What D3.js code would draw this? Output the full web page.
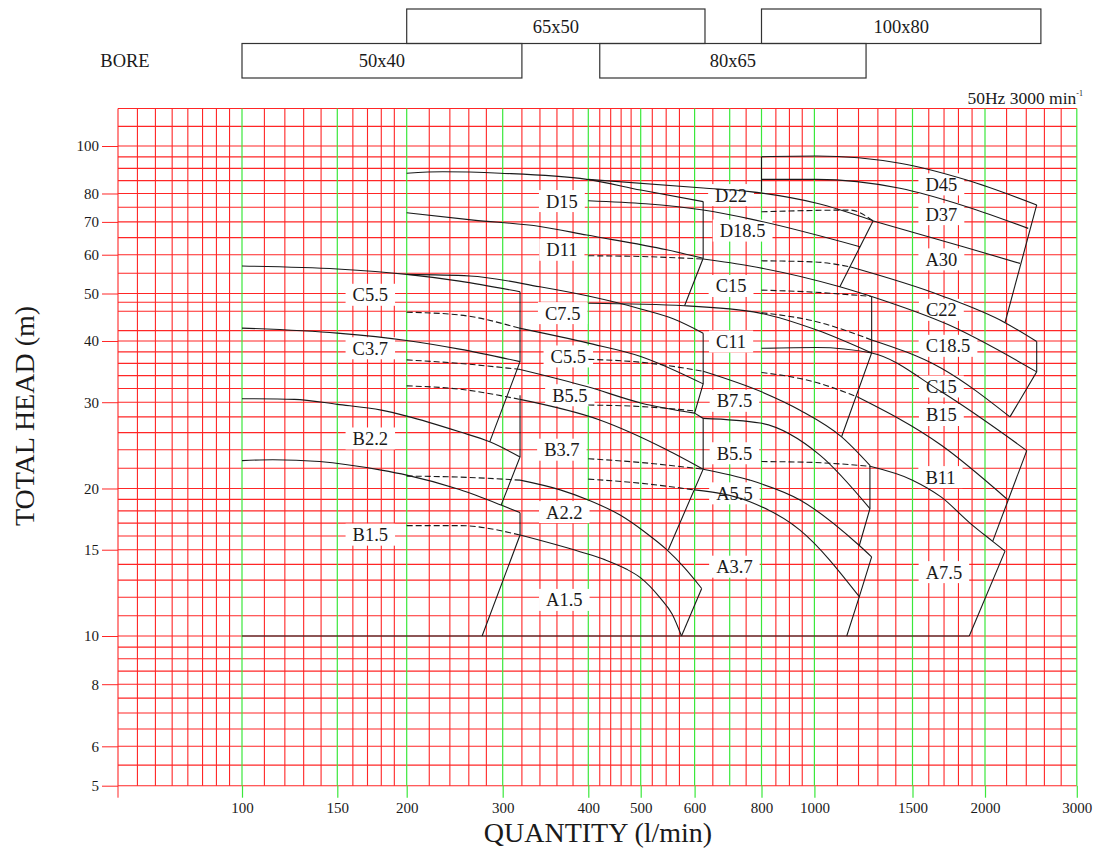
<!DOCTYPE html>
<html>
<head>
<meta charset="utf-8">
<script src="https://cdn.jsdelivr.net/npm/d3@7"></script>
<style>
  body { margin: 0; background: #fff; }
  text { font-family: "Liberation Serif", "Times New Roman", serif; fill: #1a1a1a; }
</style>
</head>
<body>
<svg id="chart" width="1101" height="849"></svg>
<script>
// ---- axes / grid values ----
const xTicks = [100, 150, 200, 300, 400, 500, 600, 800, 1000, 1500, 2000, 3000];
const xGreen = [100, 150, 200, 300, 400, 500, 600, 700, 800, 1000, 1500, 2000, 3000];
const xMinor = [60, 65, 70, 75, 80, 85, 90, 95, 110, 120, 130, 140, 160, 170, 180, 190,
  220, 240, 260, 280, 320, 340, 360, 380, 420, 440, 460, 480, 520, 545, 570, 650, 750,
  850, 900, 950, 1100, 1200, 1300, 1400, 1600, 1700, 1800, 1900, 2200, 2400, 2600, 2800];
const yTicks = [5, 6, 8, 10, 15, 20, 30, 40, 50, 60, 70, 80, 100];
const yGrid = [5, 5.5, 6, 6.5, 7, 7.5, 8, 8.5, 9, 9.5, 10, 11, 12, 13, 14, 15, 16, 17, 18, 19,
  20, 22, 24, 26, 28, 30, 32, 34, 36, 38, 40, 42, 46, 48, 50, 55, 60, 65, 70, 75, 80, 85,
  90, 95, 100, 110, 120];

// ---- bore boxes ----
const boreNames = ["65x50", "100x80", "50x40", "80x65"];
const boreFrom = [200, 800, 100, 420];
const boreTo = [628, 2560, 320, 1238];
const boreRow = [0, 0, 1, 1];

// ---- curves [Q l/min, H m] ----
// 50x40
const c55_4050 = [[100, 56.9], [150, 56.1], [200, 54.7], [250, 53.0], [318, 50.4]];
const c37_4050 = [[100, 42.5], [150, 41.5], [200, 40.1], [250, 38.5], [318, 36.3]];
const b22_4050 = [[100, 30.5], [125, 30.4], [150, 29.7], [180, 28.9], [200, 28.1], [250, 26.1], [284, 24.9], [318, 23.2]];
const b15_4050 = [[100, 22.8], [114, 22.9], [139, 22.7], [180, 21.8], [200, 21.3], [250, 19.9], [298, 18.5], [318, 17.85]];
const env4050a = [[318, 50.4], [318, 36.3], [284, 24.9]];
const env4050b = [[318, 31.0], [318, 23.2], [298, 18.5]];
const env4050c = [[318, 17.85], [318, 16.07], [275, 10]];

// 65x50
const d15_5065 = [[200, 88.0], [233, 88.6], [297, 88.0], [398, 85.5], [500, 81.3], [623, 77.0]];
const d11_5065 = [[200, 73.1], [265, 70.6], [340, 68.5], [398, 65.8], [546, 61.4], [623, 59.0]];
const c75_5065 = [[200, 54.7], [261, 54.3], [340, 51.6], [400, 49.4], [500, 46.5], [558, 44.4], [623, 41.5]];
const c55_5065d = [[200, 45.8], [250, 45.2], [317, 42.5]];
const c55_5065 = [[317, 42.5], [400, 39.6], [500, 37.2], [623, 32.7]];
const b55_5065d = [[200, 36.6], [250, 36.0], [318, 35.0]];
const b55_5065 = [[318, 35.0], [398, 32.3], [500, 29.9], [600, 28.5]];
const b37_5065d = [[200, 32.4], [250, 31.9], [318, 30.4]];
const b37_5065 = [[318, 30.4], [420, 27.6], [546, 24.0], [623, 21.9]];
const a22_5065d = [[200, 21.2], [250, 21.1], [318, 20.8]];
const a22_5065 = [[318, 20.8], [364, 19.87], [400, 18.95], [458, 17.65], [507, 16.3], [546, 15.0], [580, 13.77], [619, 12.5]];
const a15_5065d = [[200, 16.8], [250, 16.8], [318, 16.07]];
const a15_5065 = [[318, 16.07], [389, 14.86], [430, 14.3], [470, 13.7], [500, 13.14], [534, 11.96], [556, 11.09], [574, 10]];
const env5065a = [[623, 77.0], [623, 59.0], [580, 47.2]];
const env5065b = [[623, 41.5], [623, 32.7], [600, 28.5], [623, 27.8], [623, 21.9], [549, 15.0]];
const env5065c = [[619, 12.5], [574, 10]];

// 80x65
const d22_6580 = [[400, 85.5], [623, 82.1], [762, 80.7], [1010, 76.4], [1275, 70.4]];
const d185_6580 = [[400, 77.3], [623, 74.0], [762, 71.0], [1207, 62.3]];
const c15_6580d = [[400, 59.7], [500, 59.5], [623, 58.8]];
const c15_6580 = [[623, 58.8], [762, 56.9], [1111, 51.6], [1267, 49.3]];
const c11_6580 = [[400, 47.75], [580, 47.2], [795, 45.6], [1010, 42.1], [1267, 37.8]];
const b75_6580d = [[400, 36.7], [500, 36.2], [623, 34.7]];
const b75_6580 = [[623, 34.7], [800, 31.5], [941, 28.9], [1119, 25.5], [1258, 22.3]];
const b55_6580d = [[400, 29.6], [500, 29.4], [600, 28.8]];
const b55_6580 = [[623, 27.8], [795, 27.2], [1023, 23.4], [1258, 18.2]];
const a55_6580d = [[400, 23.0], [500, 22.6], [623, 21.9]];
const a55_6580 = [[623, 21.9], [762, 20.8], [941, 18.95], [1204, 15.3], [1267, 14.5]];
const a37_6580d = [[400, 20.9], [500, 20.5], [600, 19.87]];
const a37_6580 = [[600, 19.87], [762, 18.8], [941, 16.45], [1204, 12.03]];
const env6580a = [[1275, 70.4], [1111, 51.6]];
const env6580b = [[1267, 49.3], [1267, 37.8], [1119, 25.5]];
const env6580c = [[1258, 22.3], [1258, 18.2], [1204, 15.3]];
const env6580d = [[1267, 14.5], [1204, 12.03], [1143, 10]];

// 100x80
const d45_80100 = [[800, 95.1], [1010, 95.4], [1424, 92.2], [1860, 85.2], [2513, 75.8]];
const d37_80100 = [[800, 85.5], [1010, 85.5], [1424, 82.0], [1860, 75.2], [2421, 67.9]];
const a30_80100d = [[800, 73.4], [1158, 74.0], [1275, 70.3]];
const a30_80100 = [[1275, 70.3], [1835, 62.3], [2334, 57.6]];
const c22_80100d = [[800, 58.3], [1000, 58.0], [1158, 56.7]];
const c22_80100 = [[1158, 56.7], [1682, 49.5], [2185, 43.6], [2513, 39.9]];
const c185_80100d = [[800, 50.8], [1000, 50.3], [1267, 49.3]];
const c185_80100 = [[1267, 49.3], [1727, 43.2], [2513, 34.6]];
const c15_80100d = [[800, 45.7], [1000, 43.9], [1267, 40.2]];
const c15_80100 = [[1267, 40.2], [1682, 35.2], [2233, 28.0]];
const b15_80100 = [[800, 38.65], [1010, 38.8], [1267, 37.8], [1682, 31.5], [2405, 23.9]];
const b11_80100d = [[800, 34.5], [1000, 33.0], [1191, 30.8]];
const b11_80100 = [[1191, 30.8], [1682, 24.5], [2214, 18.95]];
const a75_80100d = [[800, 22.7], [1000, 22.6], [1258, 22.2]];
const a75_80100 = [[1258, 22.2], [1500, 20.8], [1682, 19.2], [1884, 17.0], [2069, 15.6], [2185, 14.9]];
const env80100a = [[800, 95.1], [800, 80.7]];
const env80100b = [[2513, 75.8], [2185, 43.6]];
const env80100c = [[2513, 39.9], [2513, 34.6], [2233, 28.0]];
const env80100d = [[2405, 23.9], [2069, 15.6]];
const env80100e = [[2185, 14.9], [1879, 10]];
const baseLine = [[100, 10], [1879, 10]];

// ---- curve labels ----
const labelText = ["C5.5", "C3.7", "B2.2", "B1.5",
  "D15", "D11", "C7.5", "C5.5", "B5.5", "B3.7", "A2.2", "A1.5",
  "D22", "D18.5", "C15", "C11", "B7.5", "B5.5", "A5.5", "A3.7",
  "D45", "D37", "A30", "C22", "C18.5", "C15", "B15", "B11", "A7.5"];
const labelQ = [172, 172, 172, 172,
  366, 366, 367, 374, 376, 366, 369, 369,
  704, 739, 704, 704, 714, 714, 714, 714,
  1682, 1682, 1682, 1682, 1727, 1682, 1682, 1676, 1699];
const labelH = [49.7, 38.65, 25.3, 16.1,
  77.2, 61.4, 45.6, 37.2, 31.0, 24.0, 17.9, 11.85,
  79.4, 67.2, 51.8, 39.9, 30.2, 23.6, 19.55, 13.85,
  83.5, 72.6, 58.7, 46.3, 39.1, 32.3, 28.25, 21.1, 13.5];

const solidCurves = [c55_4050, c37_4050, b22_4050, b15_4050,
  d15_5065, d11_5065, c75_5065, c55_5065, b55_5065, b37_5065, a22_5065, a15_5065,
  d22_6580, d185_6580, c15_6580, c11_6580, b75_6580, b55_6580, a55_6580, a37_6580,
  d45_80100, d37_80100, a30_80100, c22_80100, c185_80100, c15_80100, b15_80100, b11_80100, a75_80100];
const dashedCurves = [c55_5065d, b55_5065d, b37_5065d, a22_5065d, a15_5065d,
  c15_6580d, b75_6580d, b55_6580d, a55_6580d, a37_6580d,
  a30_80100d, c22_80100d, c185_80100d, c15_80100d, b11_80100d, a75_80100d];
const straightLines = [env4050a, env4050b, env4050c, env5065a, env5065b, env5065c,
  env6580a, env6580b, env6580c, env6580d,
  env80100a, env80100b, env80100c, env80100d, env80100e, baseLine];

// ---- scales (reference paper is slightly irregular, so piecewise log) ----
const x = d3.scaleLog()
  .domain([60, 100, 150, 200, 300, 400, 500, 600, 700, 800, 1000, 1500, 2000, 3000])
  .range([118, 242, 337.3, 406.7, 502.7, 588.3, 640.7, 694.6, 729.7, 761.5, 814.4, 912.5, 985, 1076.8]);
const y = d3.scaleLog().domain([5, 10, 100, 120]).range([785.7, 636, 146, 108.5]);

const RED = "#ff2626", GREEN = "#3be83b", INK = "#1a1a1a";
const serif = '"Liberation Serif", "Times New Roman", serif';

const svg = d3.select("#chart");
svg.append("rect").attr("width", 1101).attr("height", 849).attr("fill", "#fff");

const x0 = x(60), x1 = x(3000), yTop = y(120), yBot = y(5);

// grid
const grid = svg.append("g");
grid.selectAll("line.h").data(yGrid).join("line").attr("class", "h")
  .attr("x1", x0).attr("x2", x1).attr("y1", d => y(d)).attr("y2", d => y(d))
  .attr("stroke", RED).attr("stroke-width", 1.1);
grid.selectAll("line.vm").data(xMinor).join("line").attr("class", "vm")
  .attr("x1", d => x(d)).attr("x2", d => x(d)).attr("y1", yTop).attr("y2", yBot)
  .attr("stroke", RED).attr("stroke-width", 1.1);
grid.selectAll("line.vg").data(xGreen).join("line").attr("class", "vg")
  .attr("x1", d => x(d)).attr("x2", d => x(d)).attr("y1", yTop).attr("y2", yBot)
  .attr("stroke", GREEN).attr("stroke-width", 1.2);
grid.append("line").attr("x1", x0).attr("x2", x0).attr("y1", yBot).attr("y2", yBot + 12)
  .attr("stroke", RED);

// axes
const yAxis = svg.append("g").attr("transform", `translate(${x0},0)`)
  .call(d3.axisLeft(y).tickValues(yTicks).tickFormat(d3.format("d")).tickSize(16).tickPadding(3));
yAxis.select(".domain").remove();
yAxis.selectAll("line").attr("stroke", RED);
yAxis.attr("font-family", serif).attr("font-size", 15);
yAxis.selectAll("text").attr("fill", INK);

const xAxis = svg.append("g").attr("transform", `translate(0,${yBot})`)
  .call(d3.axisBottom(x).tickValues(xTicks).tickFormat(d3.format("d")).tickSize(12).tickPadding(5));
xAxis.select(".domain").remove();
xAxis.selectAll("line").attr("stroke", GREEN).attr("stroke-width", 1.2);
xAxis.attr("font-family", serif).attr("font-size", 15);
xAxis.selectAll("text").attr("fill", INK);

// label layers: backgrounds under curves, text on top
const labelBg = svg.append("g");
const curves = svg.append("g").attr("fill", "none").attr("stroke", INK).attr("stroke-width", 1.1);
const labelFg = svg.append("g");

const smooth = d3.line().x(d => x(d[0])).y(d => y(d[1])).curve(d3.curveMonotoneX);
const straight = d3.line().x(d => x(d[0])).y(d => y(d[1]));

curves.selectAll("path.s").data(solidCurves).join("path").attr("class", "s").attr("d", smooth);
curves.selectAll("path.d").data(dashedCurves).join("path").attr("class", "d").attr("d", smooth)
  .attr("stroke-dasharray", "6,3");
curves.selectAll("path.e").data(straightLines).join("path").attr("class", "e").attr("d", straight);

labelText.forEach((t, i) => {
  const cx = x(labelQ[i]), cy = y(labelH[i]);
  const txt = labelFg.append("text").attr("x", cx).attr("y", cy).attr("dy", "0.35em")
    .attr("text-anchor", "middle").attr("font-size", 18.5).text(t);
  const w = txt.node().getComputedTextLength();
  labelBg.append("rect").attr("x", cx - w / 2 - 7).attr("y", cy - 11)
    .attr("width", w + 14).attr("height", 22).attr("fill", "#fff");
});

// bore boxes
const rowTop = [9, 43.5], rowH = 34.5;
boreNames.forEach((n, i) => {
  const bx0 = x(boreFrom[i]), bx1 = x(boreTo[i]), by = rowTop[boreRow[i]];
  svg.append("rect").attr("x", bx0).attr("y", by).attr("width", bx1 - bx0).attr("height", rowH)
    .attr("fill", "none").attr("stroke", "#333").attr("stroke-width", 1.2);
  svg.append("text").attr("x", (bx0 + bx1) / 2).attr("y", by + rowH / 2).attr("dy", "0.35em")
    .attr("text-anchor", "middle").attr("font-size", 18.5).text(n);
});
svg.append("text").attr("x", 125).attr("y", rowTop[1] + rowH / 2).attr("dy", "0.35em")
  .attr("text-anchor", "middle").attr("font-size", 18.5).text("BORE");

// speed note
const note = svg.append("text").attr("x", 1083).attr("y", 104).attr("text-anchor", "end").attr("font-size", 17.5);
note.append("tspan").text("50Hz 3000 min");
note.append("tspan").attr("font-size", 8).attr("dy", -8).text("-1");

// axis titles
svg.append("text").attr("x", 598).attr("y", 842).attr("text-anchor", "middle")
  .attr("font-size", 28).text("QUANTITY (l/min)");
svg.append("text").attr("transform", "translate(34,416) rotate(-90)").attr("text-anchor", "middle")
  .attr("font-size", 28).text("TOTAL HEAD (m)");
</script>
</body>
</html>
